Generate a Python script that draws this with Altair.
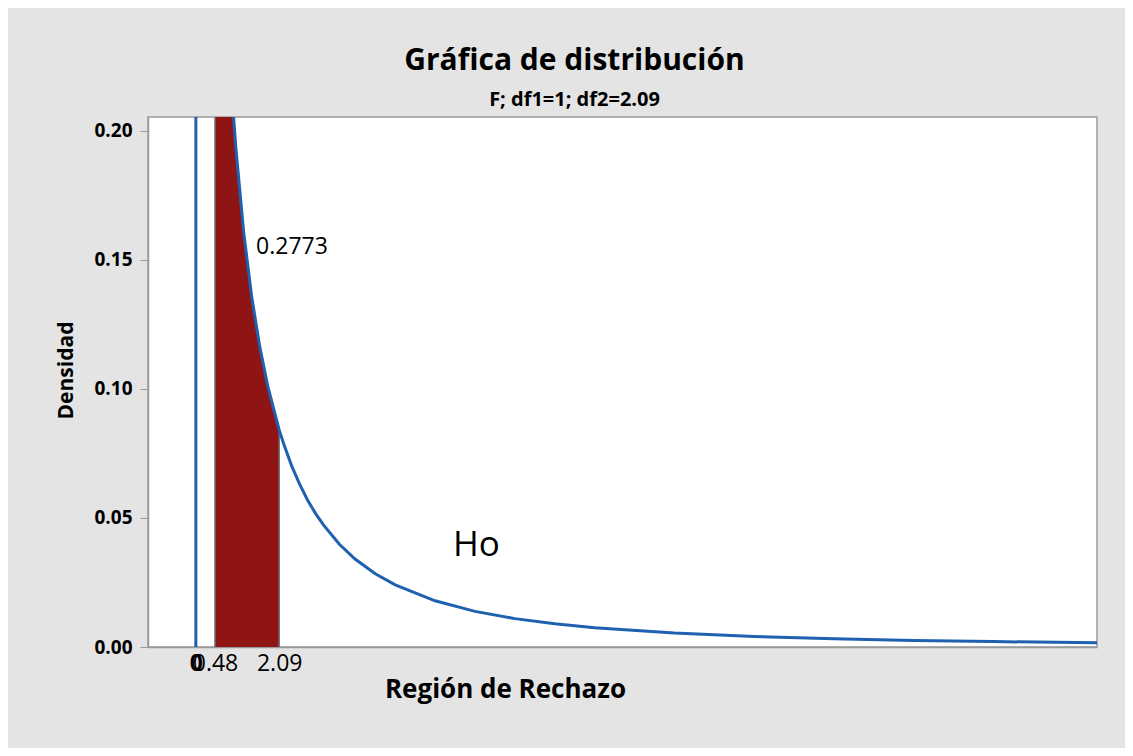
import altair as alt
import pandas as pd

# Curve of the F(1, 2.09) density (x, density)
curve_x = [0, 0, 0.1, 0.2, 0.48, 0.7, 0.9, 1.0, 1.2, 1.4, 1.6, 1.8, 2.09, 2.2, 2.4, 2.6,
           2.8, 3.0, 3.2, 3.6, 4.0, 4.5, 5, 6, 7, 8, 9, 10, 12, 14, 16, 18, 20, 22.6]
curve_y = [0, 2.0, 1.044, 0.689, 0.372, 0.2715, 0.2151, 0.194, 0.1607, 0.1358, 0.1166, 0.1013,
           0.0841, 0.0789, 0.0703, 0.0632, 0.0570, 0.0518, 0.0473, 0.0398, 0.0340, 0.0284,
           0.0241, 0.0179, 0.0138, 0.0110, 0.0090, 0.0075, 0.0054, 0.0041, 0.0032, 0.0025,
           0.0021, 0.0016]

# Shaded region bounds
shade_lo = 0.48
shade_hi = 2.09

# Annotations
ann_text = ["0.2773", "Ho"]
ann_x = [1.51, 6.45]
ann_y = [0.155, 0.0395]

x_ticks = [0, 0.48, 2.09]
y_ticks = [0, 0.05, 0.10, 0.15, 0.20]

FONT = "Open Sans"
BLUE = "#1f60b0"
RED = "#8f1414"

curve = pd.DataFrame({"x": curve_x, "y": curve_y, "i": range(len(curve_x))})
shade = curve[(curve["x"] >= shade_lo) & (curve["x"] <= shade_hi)][["x", "y"]]
edges = shade[shade["x"].isin([shade_lo, shade_hi])].copy()
edges["y0"] = 0.0
ann = pd.DataFrame({"t": ann_text, "x": ann_x, "y": ann_y})

xscale = alt.Scale(domain=[-1.2, 22.6], nice=False, zero=False)
yscale = alt.Scale(domain=[0, 0.2054], nice=False)

xaxis = alt.Axis(values=x_ticks, format=".2~f", title="Región de Rechazo",
                 ticks=False, grid=False, labelFontSize=23, labelColor="black",
                 labelFont=FONT, labelPadding=5,
                 labelFontWeight={"condition": {"test": "datum.value == 0", "value": "bold"}, "value": "normal"},
                 titleFont=FONT, titleFontSize=26, titleFontWeight="bold", titleColor="black",
                 titlePadding=1, titleX=357, titleAnchor="middle",
                 domainColor="#9a9a9a", domainWidth=1.5, labelFlush=False, labelOverlap=False)
yaxis = alt.Axis(values=y_ticks, format=".2f", title="Densidad", grid=False,
                 labelFontSize=19, labelFontWeight="bold", labelColor="black", labelFont=FONT,
                 tickSize=8, tickColor="#9a9a9a", labelPadding=8,
                 titleFont=FONT, titleFontSize=21, titleFontWeight="bold", titleColor="black",
                 titlePadding=17, titleY=253, domainColor="#9a9a9a", domainWidth=1.5)

area = alt.Chart(shade).mark_area(color=RED, opacity=1, clip=True, strokeWidth=0).encode(
    x=alt.X("x:Q", scale=xscale, axis=xaxis),
    y=alt.Y("y:Q", scale=yscale, axis=yaxis),
)
rules = alt.Chart(edges).mark_rule(color="#707070", strokeWidth=1.5, clip=True).encode(
    x="x:Q", y="y0:Q", y2="y:Q"
)
line = alt.Chart(curve).mark_line(color=BLUE, strokeWidth=3, clip=True).encode(
    x="x:Q", y="y:Q", order="i:Q"
)
txt1 = alt.Chart(ann.iloc[[0]]).mark_text(align="left", baseline="middle", fontSize=23,
                                          font=FONT, color="black").encode(
    x="x:Q", y="y:Q", text="t:N")
txt2 = alt.Chart(ann.iloc[[1]]).mark_text(align="left", baseline="middle", fontSize=35,
                                          font=FONT, color="black").encode(
    x="x:Q", y="y:Q", text="t:N")

chart = alt.layer(area, rules, line, txt1, txt2).properties(
    width=949, height=530,
    autosize=alt.AutoSizeParams(type="none"),
    padding={"left": 140, "top": 109, "right": 28, "bottom": 101},
    background="#e4e4e4",
    title=alt.TitleParams(
        text="Gráfica de distribución", subtitle="F; df1=1; df2=2.09",
        font=FONT, fontSize=30, fontWeight="bold", color="black",
        subtitleFont=FONT, subtitleFontSize=20, subtitleFontWeight="bold", subtitleColor="black",
        anchor="middle", dx=-48, offset=7, subtitlePadding=14,
    ),
).configure_view(stroke="#9a9a9a", strokeWidth=1.5, fill="white")

chart.save("out.html", embed_options={"renderer": "svg", "actions": False})
